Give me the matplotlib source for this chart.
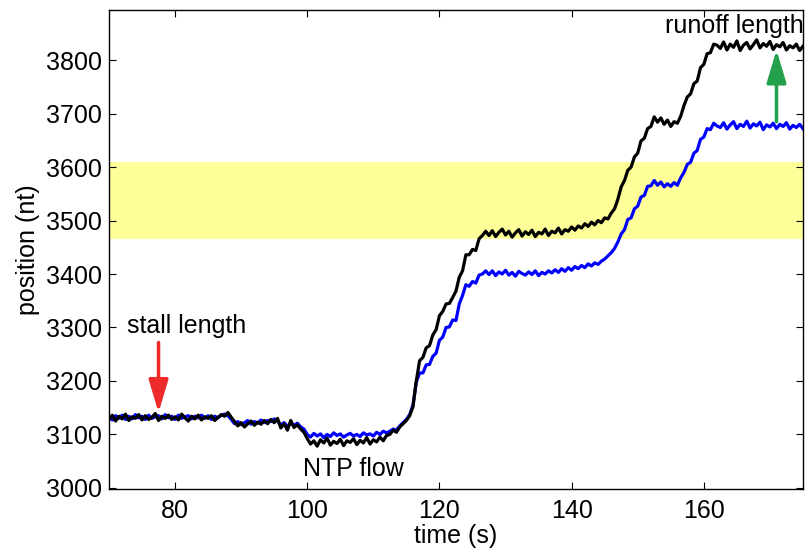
import numpy as np
import matplotlib.pyplot as plt

plt.rcParams['font.family'] = ['Liberation Sans', 'DejaVu Sans']

# time axis, one sample every 0.5 s
t = np.arange(70.0, 175.01, 0.5)

# black trace (nt)
black = [
    3128, 3136, 3125, 3134, 3129, 3138, 3126, 3133, 3130, 3137,
    3127, 3135, 3128, 3132, 3139, 3126, 3134, 3130, 3136, 3128,
    3133, 3127, 3138, 3131, 3125, 3134, 3129, 3136, 3127, 3133,
    3130, 3135, 3126, 3132, 3137, 3134, 3141,
    3132, 3124, 3116, 3122, 3114, 3120, 3125, 3117, 3123, 3119, 3126, 3120, 3128, 3122, 3130,
    3112, 3120, 3108, 3126, 3113, 3118, 3110, 3104,
    3092, 3082, 3088, 3078, 3090, 3084, 3093, 3080, 3087, 3083,
    3091, 3079, 3088, 3085, 3092, 3081, 3089, 3084, 3094, 3082,
    3090, 3086, 3095, 3088, 3098,
    3100, 3108, 3104, 3114, 3120, 3126, 3135, 3152,
    3200, 3238, 3244, 3262, 3266, 3286, 3296, 3322, 3330, 3344, 3345,
    3356, 3368, 3394, 3406, 3436, 3436, 3446, 3444, 3466, 3472, 3480,
    3472, 3481, 3470, 3478, 3484, 3473, 3480, 3469, 3477, 3483,
    3471, 3479, 3474, 3482, 3470, 3478, 3475, 3484, 3472, 3480,
    3477, 3486, 3475, 3483, 3480, 3488, 3482, 3490,
    3486, 3494, 3489, 3497, 3492, 3500, 3496, 3505, 3503, 3514, 3522,
    3540, 3563, 3575, 3594, 3600, 3619, 3626, 3649, 3654, 3672, 3676, 3694,
    3684, 3692, 3680, 3688, 3676, 3685, 3682, 3695,
    3715, 3731, 3737, 3756, 3761, 3786, 3792, 3812, 3814, 3830, 3828,
    3822, 3834, 3819, 3830, 3824, 3836, 3818, 3828, 3833, 3821,
    3829, 3838, 3823, 3831, 3826, 3835, 3820, 3829, 3825, 3833,
    3819, 3827, 3823, 3830, 3818, 3826,
]

# blue trace (nt)
blue = [
    3133, 3127, 3135, 3130, 3136, 3128, 3134, 3129, 3137, 3131,
    3134, 3128, 3136, 3130, 3133, 3135, 3129, 3137, 3131, 3134,
    3128, 3136, 3130, 3133, 3135, 3129, 3134, 3131, 3136, 3130,
    3135, 3128, 3134, 3131, 3136, 3138, 3135,
    3128, 3120, 3124, 3118, 3122, 3126, 3119, 3124, 3121, 3127, 3122, 3126, 3124, 3129, 3125,
    3118, 3122, 3115, 3120, 3117, 3121, 3114, 3110,
    3100, 3095, 3102, 3097, 3101, 3094, 3100, 3096, 3103, 3098,
    3101, 3095, 3099, 3102, 3097, 3100, 3096, 3103, 3099, 3101,
    3097, 3104, 3100, 3106, 3103,
    3106, 3110, 3108, 3116, 3122, 3128, 3137, 3155,
    3198, 3215, 3215, 3230, 3231, 3246, 3252, 3276, 3282, 3300, 3301,
    3314, 3313, 3344, 3360, 3380, 3377, 3386, 3383, 3398, 3400, 3406,
    3399, 3406, 3397, 3404, 3400, 3407, 3398, 3403, 3396, 3405,
    3401, 3398, 3404, 3399, 3406, 3397, 3403, 3400, 3406, 3402,
    3408, 3403, 3410, 3405, 3412, 3407, 3414, 3410,
    3416, 3412, 3419, 3415, 3421, 3418, 3424, 3428, 3434, 3440, 3448,
    3460, 3475, 3483, 3502, 3505, 3522, 3527, 3544, 3547, 3564, 3565, 3575,
    3566, 3572, 3563, 3569, 3564, 3571, 3566, 3580,
    3590, 3605, 3609, 3626, 3631, 3652, 3656, 3672, 3670, 3682, 3677,
    3674, 3683, 3671, 3679, 3685, 3672, 3680, 3676, 3686, 3673,
    3681, 3677, 3684, 3670, 3679, 3675, 3682, 3672, 3680, 3676,
    3683, 3671, 3678, 3674, 3680, 3672,
]

band = (3466, 3610)          # yellow region
stall = (77.5, 3272, 3141)   # x, arrow tail, arrow tip
runoff = (171.0, 3685, 3819)

fig = plt.figure(figsize=(8.06, 5.5), dpi=100)
ax = fig.add_axes([0.1352, 0.111, 0.861, 0.871])

ax.axhspan(band[0], band[1], color='#FFFF99', lw=0, zorder=0)
ax.plot(t, blue, color='#0000FF', lw=2.3, zorder=2)
ax.plot(t, black, color='black', lw=2.3, zorder=3)

ax.annotate('', xy=(stall[0], stall[2]), xytext=(stall[0], stall[1]),
            arrowprops=dict(arrowstyle='-|>,head_length=2.0,head_width=0.6',
                            mutation_scale=10, lw=2.5, color='#EE2A2A',
                            shrinkA=0, shrinkB=0), zorder=5)
ax.annotate('', xy=(runoff[0], runoff[2]), xytext=(runoff[0], runoff[1]),
            arrowprops=dict(arrowstyle='-|>,head_length=2.0,head_width=0.6',
                            mutation_scale=10, lw=2.5, color='#22A04B',
                            shrinkA=0, shrinkB=0), zorder=5)

ax.text(81.7, 3302, 'stall length', fontsize=18, ha='center', va='center')
ax.text(107.0, 3036, 'NTP flow', fontsize=18, ha='center', va='center')
ax.text(164.7, 3864, 'runoff length', fontsize=18, ha='center', va='center', clip_on=False)

ax.set_xlim(70, 175)
ax.set_ylim(2998, 3894)
ax.set_xticks([80, 100, 120, 140, 160])
ax.set_yticks(range(3000, 3801, 100))
ax.tick_params(direction='in', top=True, right=True, length=5, width=0.8,
               labelsize=18)
ax.tick_params(axis='x', pad=7)
ax.tick_params(axis='y', pad=5)
for s in ax.spines.values():
    s.set_linewidth(1.0)

ax.set_xlabel('time (s)', fontsize=18, labelpad=1)
ax.set_ylabel('position (nt)', fontsize=18, labelpad=4)

fig.savefig('out.png', dpi=100)
